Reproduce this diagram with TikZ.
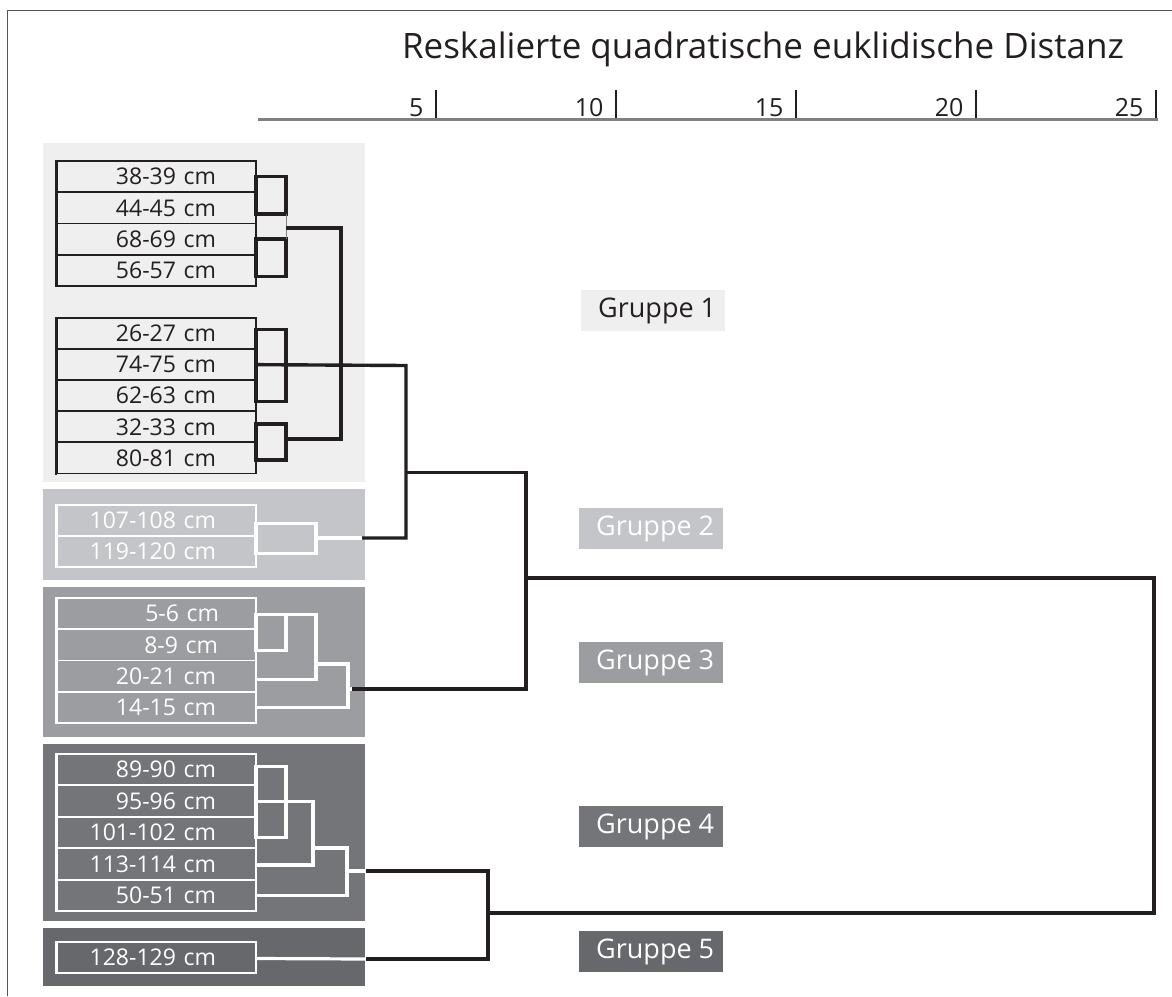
\documentclass[tikz,border=0pt]{standalone}
\usepackage{fontspec}
\setmainfont{Open Sans}
\definecolor{ink}{HTML}{231F20}
\definecolor{gA}{HTML}{EFEFEF}
\definecolor{gB}{HTML}{C4C5C8}
\definecolor{gC}{HTML}{9C9DA1}
\definecolor{gD}{HTML}{747579}
\definecolor{gE}{HTML}{67686C}
\definecolor{frameC}{HTML}{555555}
\newcommand\leaffont{\fontsize{23}{27}\selectfont}
\newcommand\grpfont{\fontsize{27}{32}\selectfont}
\begin{document}
\begin{tikzpicture}[x=1pt,y=-1pt,
  panel/.style={anchor=north west, inner sep=0pt, outer sep=0pt, minimum width=322pt},
  leaf/.style={draw=#1, text=#1, line width=1.9pt, minimum width=199pt, inner sep=0pt, outer sep=0pt,
    anchor=north west, text width=199pt, align=right, font=\leaffont},
  stack/.style={draw=#1, line width=2.6pt},
  blk/.style={draw=ink, line width=3.4pt},
  wht/.style={draw=white, line width=3.2pt},
  grp/.style={anchor=north west, inner sep=0pt, minimum width=144pt, minimum height=41pt, font=\grpfont},
  tick/.style={draw=ink, line width=2.2pt},
]
\useasboundingbox (0,0) rectangle (1172,996);
\fill[white] (0,0) rectangle (1172,996);
% frame
\draw[frameC, line width=1.6pt] (7.5,996) -- (7.5,10.5) -- (1172,10.5);

% title and axis
\node[anchor=base, font=\fontsize{35}{40}\selectfont, text=ink] (title) at (763,58) {Reskalierte quadratische euklidische Distanz};
\draw[draw=gray, line width=2.2pt] (258,119.5) -- (1158,119.5);
\foreach \v/\xx in {5/436,10/616,15/796,20/976,25/1156}{
  \coordinate (tk\v) at (\xx,90);
  \draw[tick] (tk\v) -- ++(0,28);
  \node[anchor=base east, font=\fontsize{25}{30}\selectfont, text=ink] (n\v) at (\xx-9,116) {\v};
}

% panels
\node[panel, fill=gA, minimum height=339pt] (p1) at (43,143) {};
\node[panel, fill=gB, minimum height=91pt] (p2) at (43,489) {};
\node[panel, fill=gC, minimum height=150pt] (p3) at (43,587) {};
\node[panel, fill=gD, minimum height=177pt] (p4) at (43,744) {};
\node[panel, fill=gE, minimum height=58pt] (p5) at (43,928) {};

% leaves group 1
\node[leaf=ink, minimum height=31.25pt] (a1) at (57,161) {38-39 cm\kern40pt};
\node[leaf=ink, minimum height=31.25pt] (a2) at (57,192.25) {44-45 cm\kern40pt};
\node[leaf=ink, minimum height=31.25pt] (a3) at (57,223.5) {68-69 cm\kern40pt};
\node[leaf=ink, minimum height=31.25pt] (a4) at (57,254.75) {56-57 cm\kern40pt};
\draw[stack=ink] (56,160) -- (56,287);
\node[leaf=ink, minimum height=31.1pt] (b1) at (57,318) {26-27 cm\kern40pt};
\node[leaf=ink, minimum height=31.1pt] (b2) at (57,349.1) {74-75 cm\kern40pt};
\node[leaf=ink, minimum height=31.1pt] (b3) at (57,380.2) {62-63 cm\kern40pt};
\node[leaf=ink, minimum height=31.1pt] (b4) at (57,411.3) {32-33 cm\kern40pt};
\node[leaf=ink, minimum height=31.1pt] (b5) at (57,442.4) {80-81 cm\kern40pt};
\draw[stack=ink] (56,317) -- (56,474.5);
% group 2
\node[leaf=white, minimum height=31pt] (c1) at (57,505) {107-108 cm\kern40pt};
\node[leaf=white, minimum height=31pt] (c2) at (57,536) {119-120 cm\kern40pt};
\draw[stack=white] (56,504) -- (56,568);
% group 3
\node[leaf=white, minimum height=31.25pt] (d1) at (57,598) {5-6 cm\kern37pt};
\node[leaf=white, minimum height=31.25pt] (d2) at (57,629.25) {8-9 cm\kern38pt};
\node[leaf=white, minimum height=31.25pt] (d3) at (57,660.5) {20-21 cm\kern40pt};
\node[leaf=white, minimum height=31.25pt] (d4) at (57,691.75) {14-15 cm\kern40pt};
\draw[stack=white] (56,597) -- (56,724);
% group 4
\node[leaf=white, minimum height=31.4pt] (e1) at (57,754) {89-90 cm\kern40pt};
\node[leaf=white, minimum height=31.4pt] (e2) at (57,785.4) {95-96 cm\kern40pt};
\node[leaf=white, minimum height=31.4pt] (e3) at (57,816.8) {101-102 cm\kern40pt};
\node[leaf=white, minimum height=31.4pt] (e4) at (57,848.2) {113-114 cm\kern40pt};
\node[leaf=white, minimum height=31.4pt] (e5) at (57,879.6) {50-51 cm\kern40pt};
\draw[stack=white] (56,753) -- (56,912);
% group 5
\node[leaf=white, minimum height=31pt] (f1) at (57,942) {128-129 cm\kern40pt};
\draw[stack=white] (56,941) -- (56,974);

% group labels
\node[grp, fill=gA, text=ink] (L1) at (581,290) {\hspace*{8pt}Gruppe 1};
\node[grp, fill=gB, text=white] (L2) at (579,508) {\hspace*{8pt}Gruppe 2};
\node[grp, fill=gC, text=white] (L3) at (579,642) {\hspace*{8pt}Gruppe 3};
\node[grp, fill=gD, text=white] (L4) at (579,806) {\hspace*{8pt}Gruppe 4};
\node[grp, fill=gE, text=white] (L5) at (579,931) {\hspace*{8pt}Gruppe 5};

% x levels
\coordinate (x1) at (286,0);
\coordinate (x6) at (316,0);
\coordinate (x7) at (313,0);

% ---- group 1 connectors
\coordinate (a2s) at ([yshift=-6pt]a2.east);
\coordinate (a4s) at ([yshift=-6pt]a4.east);
\draw[blk] (a1.east) -- (a1.east -| x1) -- (a2s -| x1) -- (a2s) -- cycle;
\draw[blk] (a3.east) -- (a3.east -| x1) -- (a4s -| x1) -- (a4s) -- cycle;
\draw[draw=gray, line width=1pt] (a2s -| x1) -- (a3.east -| x1);
\coordinate (j1) at (341,228);
\coordinate (b1s) at ([yshift=4pt]b1.east);
\coordinate (b3s) at ([yshift=-6pt]b3.east);
\draw[blk] (b1s) -- (b1s -| x1) -- (b3s -| x1) -- (b3s) -- cycle;
\coordinate (b4s) at ([yshift=3pt]b4.east);
\coordinate (b5s) at ([yshift=-2pt]b5.east);
\draw[blk] (b4s) -- (b4s -| x1) -- (b5s -| x1) -- (b5s) -- cycle;
\coordinate (j2) at (341,439);
\draw[blk] (j1 -| x1) -- (j1) -- (j2) -- (j2 -| x1);
% 74-75 line to merge with group 2
\coordinate (m12) at (406,365.5);
\coordinate (m2) at (406,538);
\draw[blk] (b2.east) -- (m12) -- (m2) -- (362,538);

% ---- group 2
\coordinate (c1s) at ([yshift=-3pt]c1.east);
\coordinate (c2s) at ([yshift=-2pt]c2.east);
\draw[wht] (c1s) -- (c1s -| x6) -- (c2s -| x6) -- (c2s) -- cycle;
\draw[wht] (x6 |- m2) -- (362,538);

% ---- merge 1+2 with 3
\coordinate (m123) at (526,472.5);
\coordinate (m3) at (526,689);
\draw[blk] (406,472.5) -- (m123) -- (m3) -- (352,689);

% ---- group 3
\coordinate (d1s) at ([yshift=-1pt]d1.east);
\coordinate (d2s) at ([yshift=-6pt]d2.east);
\coordinate (d3s) at ([yshift=-3pt]d3.east);
\draw[wht] (d1s) -- (d1s -| x1) -- (d2s -| x1) -- (d2s) -- cycle;
\draw[wht] (d1s -| x1) -- (d1s -| x6) -- (d3s -| x6) -- (d3s);
\coordinate (j3) at (316,664);
\coordinate (j4) at (348,664);
\coordinate (d4s) at (d4.east);
\draw[wht] (j3) -- (j4) -- (j4 |- d4s) -- (d4s);
\draw[wht] (348,689) -- (352,689);

% ---- group 4
\coordinate (e1s) at ([yshift=3pt]e1.east);
\coordinate (e3s) at ([yshift=-5pt]e3.east);
\draw[wht] (e1s) -- (e1s -| x1) -- (e3s -| x1) -- (e3s) -- cycle;
\coordinate (e4s) at ([yshift=-1pt]e4.east);
\draw[wht] (e2.east) -- (e2.east -| x7) -- (e4s -| x7) -- (e4s);
\coordinate (j5) at (313,848);
\coordinate (j6) at (347,848);
\draw[wht] (j5) -- (j6) -- (j6 |- e5.east) -- (e5.east);
\coordinate (m4) at (347,871);
\draw[wht] (m4) -- (366,871);
% ---- group 5
\coordinate (f1s) at ([yshift=-1pt]f1.east);
\draw[wht] (f1s) -- (366,959);
% ---- merge 4+5
\coordinate (m45a) at (488,871);
\coordinate (m45b) at (488,959);
\draw[blk] (366,871) -- (m45a) -- (m45b) -- (366,959);
% ---- root
\coordinate (r1) at (1154,578);
\coordinate (r2) at (1154,913);
\draw[blk] (526,578) -- (r1) -- (r2) -- (488,913);
\end{tikzpicture}
\end{document}
